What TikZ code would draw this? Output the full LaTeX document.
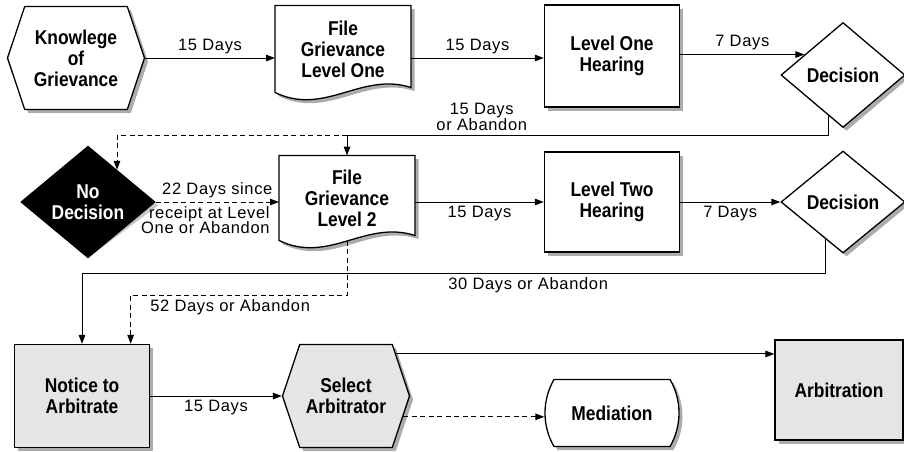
\documentclass[tikz,border=0pt]{standalone}
\usepackage{fontspec}
\setmainfont{Liberation Sans}
\newfontfamily\dayfont[LetterSpace=4]{Liberation Sans}
\newfontfamily\boxfont[FakeStretch=0.87]{Liberation Sans}
\usetikzlibrary{arrows.meta,shapes.geometric,shapes.symbols,shapes.misc,backgrounds}

\begin{document}
\begin{tikzpicture}[x=1pt,y=-1pt,->,>={Triangle[length=9pt,width=6.5pt]},
                line width=1pt,auto,
                flow node/.style={draw,line width=1.3pt,fill=white,align=center,
                  font=\boxfont\fontsize{20}{21}\selectfont\bfseries,inner sep=1pt},
                box node/.style={flow node,rectangle,minimum width=135pt,minimum height=102pt},
                hex node/.style={flow node,signal,signal to=west and east,
                  signal pointer angle=143,minimum width=137pt,minimum height=103pt},
                dec node/.style={flow node,diamond,minimum width=124pt,minimum height=105pt},
                pill node/.style={flow node,rounded rectangle,rounded rectangle arc length=60,
                  minimum width=135pt,minimum height=67pt},
                doc node/.style={rectangle,align=center,font=\boxfont\fontsize{20}{21}\selectfont\bfseries,
                  minimum width=135pt,minimum height=86pt},
                doc outline/.style={-,draw,line width=1.3pt,fill=white},
                ghost/.style={-,draw=none,fill=gray!65},
                grey/.style={fill=black!10},
                days/.style={font=\dayfont\fontsize{16.5}{15.5}\selectfont,align=center,inner sep=4pt},
                dashed edge/.style={dash pattern=on 5pt off 3.5pt}]

  \useasboundingbox (0,0) rectangle (904,451);

  % first level
  \node[hex node] (know) at (76,58) {Knowlege\\of\\Grievance};
  \node[doc node] (doc1) at (343,49) {File\\Grievance\\Level One};
  \node[box node] (hear1) at (612,56) {Level One\\Hearing};
  \node[dec node] (dec1) at (843,75) {Decision};

  % second level
  \node[dec node,fill=black,text=white,minimum width=134pt,minimum height=100pt] (nodec) at (88,202) {No\\Decision};
  \node[doc node,minimum height=84pt] (doc2) at (347,198) {File\\Grievance\\Level 2};
  \node[box node,minimum height=100pt] (hear2) at (612,202) {Level Two\\Hearing};
  \node[dec node,minimum height=102pt] (dec2) at (843,202) {Decision};

  % arbitration
  \node[box node,grey,minimum height=103pt] (notice) at (82,396) {Notice to\\Arbitrate};
  \node[hex node,grey,minimum width=127pt] (select) at (346,396) {Select\\Arbitrator};
  \node[pill node] (media) at (612,413) {Mediation};
  \node[box node,grey,minimum width=128pt,minimum height=100pt] (arbit) at (839,390) {Arbitration};

  % shadows and page shapes
  \begin{scope}[on background layer]
    \node[hex node,ghost] at ([shift={(3.5pt,-3.5pt)}]know) {};
    \node[box node,ghost] at ([shift={(3.5pt,-3.5pt)}]hear1) {};
    \node[dec node,ghost] at ([shift={(3.5pt,-3.5pt)}]dec1) {};
    \node[dec node,ghost,fill=gray!45,minimum width=134pt,minimum height=100pt] at ([shift={(3.5pt,-3.5pt)}]nodec) {};
    \node[box node,ghost,minimum height=100pt] at ([shift={(3.5pt,-3.5pt)}]hear2) {};
    \node[dec node,ghost,minimum height=102pt] at ([shift={(3.5pt,-3.5pt)}]dec2) {};
    \node[box node,ghost,minimum height=103pt] at ([shift={(3.5pt,-3.5pt)}]notice) {};
    \node[hex node,ghost,minimum width=127pt] at ([shift={(3.5pt,-3.5pt)}]select) {};
    \node[pill node,ghost] at ([shift={(3.5pt,-3.5pt)}]media) {};
    \node[box node,ghost,minimum width=128pt,minimum height=100pt] at ([shift={(3.5pt,-3.5pt)}]arbit) {};

    \fill[ghost] ([shift={(3.5pt,-3.5pt)}]doc1.south west) -- ([shift={(3.5pt,-3.5pt)}]doc1.north west)
      -- ([shift={(3.5pt,-3.5pt)}]doc1.north east) -- ([shift={(3.5pt,1.5pt)}]doc1.south east)
      .. controls +(-50,-16) and +(50,24) .. ([shift={(3.5pt,-3.5pt)}]doc1.south west) -- cycle;
    \fill[ghost] ([shift={(3.5pt,-3.5pt)}]doc2.south west) -- ([shift={(3.5pt,-3.5pt)}]doc2.north west)
      -- ([shift={(3.5pt,-3.5pt)}]doc2.north east) -- ([shift={(3.5pt,1.5pt)}]doc2.south east)
      .. controls +(-50,-16) and +(50,24) .. ([shift={(3.5pt,-3.5pt)}]doc2.south west) -- cycle;
    \draw[doc outline] (doc1.south west) -- (doc1.north west) -- (doc1.north east)
      -- ([yshift=5pt]doc1.south east) .. controls +(-50,-16) and +(50,24) .. (doc1.south west) -- cycle;
    \draw[doc outline] (doc2.south west) -- (doc2.north west) -- (doc2.north east)
      -- ([yshift=5pt]doc2.south east) .. controls +(-50,-16) and +(50,24) .. (doc2.south west) -- cycle;
  \end{scope}

  \coordinate (fork1) at (347,135);
  \coordinate (fork2) at (82,273);
  \coordinate (fork3) at (347,295);

  \path
    (know.east) edge node[days] {15 Days} (know.east -| doc1.west)
    (doc1.east |- know.east) edge node[days] {15 Days} (hear1.west |- know.east)
    (dec1.152 -| hear1.east) edge node[days] {7 Days} (dec1.152)
    (nodec.east) edge[dashed edge] node[days] {22 Days since}
        node[days,pos=0.96,below left,align=right] {receipt at Level\\One or Abandon} (nodec.east -| doc2.west)
    (doc2.east |- hear2.west) edge node[days,swap] {15 Days} (hear2.west)
    (hear2.east) edge node[days,swap] {7 Days} (dec2.west)
    (notice.east) edge node[days,swap] {15 Days} (select.west)
    (select.40) edge (select.40 -| arbit.west)
    (select.-20) edge[dashed edge] (select.-20 -| media.west);

  \draw (dec1.250) |- (fork1) node[days,pos=0.86,above] {15 Days\\or Abandon} -- (doc2.north);
  \draw[dashed edge] (fork1) -| (nodec.48);
  \draw (dec2.245) |- (fork2) node[days,pos=0.7,below] {30 Days or Abandon} -- (notice.north);
  \draw[dashed edge] (doc2.south) -- (fork3) -| (notice.47) node[days,pos=0.27,below] {52 Days or Abandon};
\end{tikzpicture}
\end{document}
